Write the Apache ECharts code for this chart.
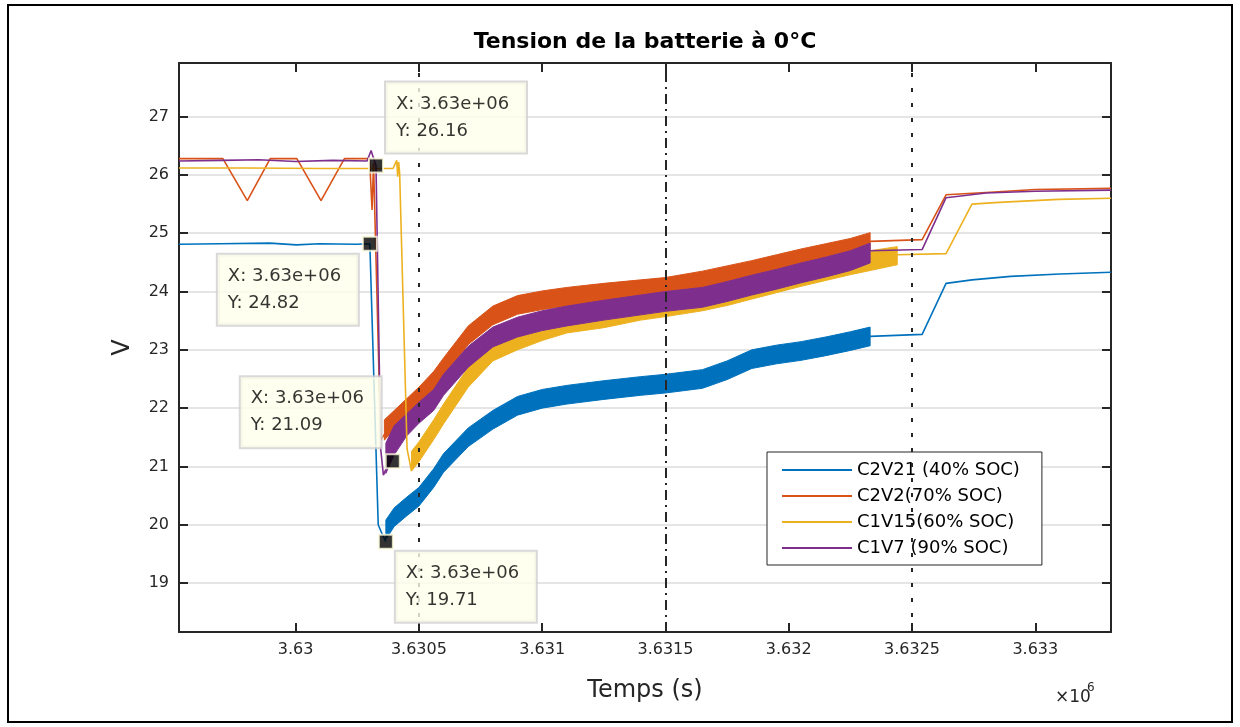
<!DOCTYPE html>
<html>
<head>
<meta charset="utf-8">
<script src="https://cdn.jsdelivr.net/npm/echarts@6/dist/echarts.min.js"></script>
<style>
  html, body { margin: 0; padding: 0; background: #fff; }
  #chart { width: 1240px; height: 727px; }
</style>
</head>
<body>
<div id="chart"></div>
<script>
// ---------- labels ----------
const TITLE = 'Tension de la batterie à 0°C';
const X_NAME = 'Temps (s)';
const Y_NAME = 'V';
const SERIES_NAMES = ['C2V21 (40% SOC)', 'C2V2(70% SOC)', 'C1V15(60% SOC)', 'C1V7 (90% SOC)'];

// ---------- axes (time in s, voltage in V) ----------
const TIME_RANGE = [3629527, 3633307];
const VOLT_RANGE = [18.16, 27.92];
const TIME_STEP = 500;
const VOLT_STEP = 1;
const EVENT_TIMES = [3630500, 3631500, 3632500];

// ---------- data tips ----------
const TIP_TIMES = [3630326, 3630301, 3630394, 3630366];
const TIP_VOLTS = [26.16, 24.82, 21.09, 19.71];

// ---------- C2V21 (40% SOC) ----------
const blueBefore = [[3629527, 24.81], [3629693, 24.82], [3629895, 24.83], [3630003, 24.80], [3630097, 24.82],
  [3630245, 24.81], [3630301, 24.82], [3630335, 20.0], [3630350, 19.85], [3630366, 19.71]];
// [t, low, high] envelope of the ripple during the charge
const blueBand = [[3630366, 19.75, 20.08], [3630400, 19.97, 20.29], [3630450, 20.15, 20.47], [3630500, 20.32, 20.64],
  [3630560, 20.64, 20.96], [3630600, 20.90, 21.22], [3630700, 21.34, 21.66], [3630800, 21.64, 21.96],
  [3630900, 21.88, 22.20], [3631000, 22.00, 22.32], [3631100, 22.07, 22.39], [3631250, 22.15, 22.47],
  [3631400, 22.22, 22.54], [3631500, 22.26, 22.58], [3631650, 22.34, 22.66], [3631750, 22.49, 22.81],
  [3631850, 22.68, 23.00], [3631950, 22.76, 23.08], [3632050, 22.82, 23.14], [3632150, 22.90, 23.22],
  [3632250, 22.99, 23.31], [3632330, 23.07, 23.39]];
const blueAfter = [[3632330, 23.23], [3632541, 23.265], [3632638, 24.14], [3632743, 24.20], [3632900, 24.26],
  [3633100, 24.30], [3633307, 24.33]];

// ---------- C2V2(70% SOC) ----------
const orangeBefore = [[3629527, 26.28], [3629705, 26.28], [3629804, 25.56], [3629897, 26.28], [3630005, 26.28],
  [3630103, 25.56], [3630198, 26.28], [3630300, 26.28], [3630310, 25.40], [3630316, 26.20], [3630345, 21.45],
  [3630360, 21.55]];
const orangeBand = [[3630360, 21.45, 21.80], [3630400, 21.64, 21.96], [3630450, 21.84, 22.16], [3630500, 22.04, 22.36],
  [3630560, 22.31, 22.63], [3630600, 22.54, 22.86], [3630700, 23.09, 23.41], [3630800, 23.43, 23.75],
  [3630900, 23.61, 23.93], [3631000, 23.69, 24.01], [3631100, 23.75, 24.07], [3631250, 23.82, 24.14],
  [3631400, 23.88, 24.20], [3631500, 23.92, 24.24], [3631650, 24.03, 24.35], [3631750, 24.12, 24.44],
  [3631850, 24.21, 24.53], [3631950, 24.31, 24.63], [3632050, 24.41, 24.73], [3632150, 24.50, 24.82],
  [3632250, 24.59, 24.91], [3632330, 24.69, 25.01]];
const orangeAfter = [[3632330, 24.86], [3632541, 24.89], [3632638, 25.66], [3632800, 25.70], [3633000, 25.75],
  [3633307, 25.77]];

// ---------- C1V15(60% SOC) ----------
const yellowBefore = [[3629527, 26.12], [3629800, 26.12], [3630100, 26.11], [3630395, 26.11], [3630410, 26.25],
  [3630414, 25.97], [3630418, 26.22], [3630422, 26.02], [3630452, 21.30], [3630470, 20.92]];
const yellowBand = [[3630470, 20.92, 21.26], [3630500, 21.08, 21.42], [3630560, 21.46, 21.80], [3630600, 21.73, 22.07],
  [3630700, 22.36, 22.70], [3630800, 22.81, 23.15], [3630900, 23.00, 23.34], [3631000, 23.16, 23.50],
  [3631100, 23.29, 23.63], [3631250, 23.38, 23.72], [3631400, 23.51, 23.85], [3631500, 23.57, 23.91],
  [3631650, 23.67, 24.01], [3631750, 23.76, 24.10], [3631850, 23.87, 24.21], [3631950, 23.98, 24.32],
  [3632050, 24.09, 24.43], [3632150, 24.19, 24.53], [3632250, 24.29, 24.63], [3632330, 24.36, 24.70],
  [3632440, 24.46, 24.77]];
const yellowAfter = [[3632440, 24.63], [3632638, 24.65], [3632743, 25.50], [3632852, 25.53], [3633095, 25.58],
  [3633307, 25.60]];

// ---------- C1V7 (90% SOC) ----------
const purpleBefore = [[3629527, 26.24], [3629700, 26.25], [3629850, 26.26], [3630000, 26.23], [3630150, 26.25],
  [3630290, 26.24], [3630306, 26.42], [3630315, 26.30], [3630326, 26.16], [3630345, 21.30], [3630356, 20.85],
  [3630366, 20.95]];
const purpleBand = [[3630366, 20.88, 21.40], [3630400, 21.20, 21.70], [3630450, 21.52, 21.90], [3630500, 21.74, 22.10],
  [3630560, 21.96, 22.32], [3630600, 22.22, 22.58], [3630700, 22.70, 23.06], [3630800, 23.05, 23.39],
  [3630900, 23.22, 23.56], [3631000, 23.33, 23.67], [3631100, 23.41, 23.75], [3631250, 23.51, 23.85],
  [3631400, 23.60, 23.94], [3631500, 23.66, 24.00], [3631650, 23.73, 24.07], [3631750, 23.83, 24.17],
  [3631850, 23.94, 24.28], [3631950, 24.04, 24.38], [3632050, 24.15, 24.49], [3632150, 24.25, 24.59],
  [3632250, 24.36, 24.70], [3632330, 24.49, 24.83]];
const purpleAfter = [[3632330, 24.70], [3632541, 24.72], [3632638, 25.61], [3632800, 25.69], [3633000, 25.72],
  [3633307, 25.74]];

// ---------- styling ----------
const FONT = '"DejaVu Sans", sans-serif';
const INK = '#262626';
const COLORS = ['#0072BD', '#D95319', '#EDB120', '#7E2F8E'];
const TIP_LABEL_POS = [[18, -75], [-144, 19], [-144, -76], [18, 18]];

const traces = [
  { before: blueBefore, band: blueBand, after: blueAfter },
  { before: orangeBefore, band: orangeBand, after: orangeAfter },
  { before: yellowBefore, band: yellowBand, after: yellowAfter },
  { before: purpleBefore, band: purpleBand, after: purpleAfter }
];

function sci(v) {
  const e = Math.floor(Math.log10(Math.abs(v)));
  const m = v / Math.pow(10, e);
  return m.toFixed(2) + 'e' + (e >= 0 ? '+' : '-') + String(Math.abs(e)).padStart(2, '0');
}

// filled ripple envelope: upper edge left->right, lower edge right->left
function bandRenderer(color) {
  return function (params, api) {
    if (params.dataIndexInside !== 0) return null;
    const n = params.dataInsideLength;
    const upper = [], lower = [];
    for (let i = 0; i < n; i++) {
      const t = api.value(0, i);
      upper.push(api.coord([t, api.value(2, i)]));
      lower.push(api.coord([t, api.value(1, i)]));
    }
    return {
      type: 'polygon',
      shape: { points: upper.concat(lower.reverse()) },
      style: { fill: color, stroke: color, lineWidth: 1 }
    };
  };
}

const series = [];
traces.forEach((tr, k) => {
  const line = {
    type: 'line', name: SERIES_NAMES[k], symbol: 'none', showSymbol: false,
    lineStyle: { color: COLORS[k], width: 1.6 }, itemStyle: { color: COLORS[k] },
    xAxisIndex: 0, yAxisIndex: 0, animation: false
  };
  series.push(Object.assign({}, line, { data: tr.before }));
  series.push(Object.assign({}, line, { data: tr.after }));
  series.push({
    type: 'custom', name: SERIES_NAMES[k], data: tr.band,
    encode: { x: 0, y: [1, 2] }, renderItem: bandRenderer(COLORS[k]),
    itemStyle: { color: COLORS[k] }, animation: false
  });
});

// vertical event markers
series[0].markLine = {
  silent: true, symbol: ['none', 'none'], label: { show: false }, animation: false,
  data: EVENT_TIMES.map((t, i) => ({
    xAxis: t,
    lineStyle: { color: INK, width: 2, type: i === 1 ? [10, 5, 2, 5] : [4, 11] }
  }))
};

// data tips
series.push({
  type: 'scatter', name: 'tips', z: 10, animation: false,
  symbol: 'rect', symbolSize: 14,
  itemStyle: { color: '#000', borderColor: '#ffffe0', borderWidth: 2 },
  data: TIP_TIMES.map((t, i) => ({
    value: [t, TIP_VOLTS[i]],
    label: { position: TIP_LABEL_POS[i] }
  })),
  label: {
    show: true, align: 'left', verticalAlign: 'top',
    formatter: p => 'X: ' + sci(p.value[0]) + '\nY: ' + p.value[1].toFixed(2),
    backgroundColor: '#ffffeb', borderColor: '#cfcfcf', borderWidth: 2,
    padding: [8, 10], width: 120, lineHeight: 27,
    fontFamily: FONT, fontSize: 18, color: '#000'
  }
});

const axisLine = { show: true, onZero: false, lineStyle: { color: INK, width: 2 } };
const axisTick = { show: true, inside: true, length: 9, lineStyle: { color: INK, width: 2 } };
const tickFont = { fontFamily: FONT, fontSize: 16, color: INK };

const option = {
  backgroundColor: '#fff',
  animation: false,
  grid: { left: 179, right: 129, top: 63, bottom: 95, outerBoundsMode: 'none', containLabel: false },
  legend: {
    orient: 'vertical', left: 767, top: 452,
    data: SERIES_NAMES,
    icon: 'rect', itemWidth: 70, itemHeight: 2, itemGap: 8,
    padding: [9, 22, 8, 15],
    backgroundColor: '#fff', borderColor: INK, borderWidth: 1, borderRadius: 0,
    textStyle: { fontFamily: FONT, fontSize: 18, color: '#000', lineHeight: 18 }
  },
  xAxis: [
    {
      type: 'value', position: 'bottom', min: TIME_RANGE[0], max: TIME_RANGE[1],
      minInterval: TIME_STEP, maxInterval: TIME_STEP, splitNumber: 8,
      axisLine, axisTick,
      axisLabel: Object.assign({ margin: 10, showMinLabel: false, showMaxLabel: false,
        formatter: v => String(+(v / 1e6).toFixed(4)) }, tickFont),
      splitLine: { show: false },
      name: X_NAME, nameLocation: 'middle', nameGap: 47,
      nameTextStyle: { fontFamily: FONT, fontSize: 24, color: INK }
    },
    {
      type: 'value', position: 'top', min: TIME_RANGE[0], max: TIME_RANGE[1],
      minInterval: TIME_STEP, maxInterval: TIME_STEP, splitNumber: 8,
      axisLine, axisTick, axisLabel: { show: false }, splitLine: { show: false }
    }
  ],
  yAxis: [
    {
      type: 'value', position: 'left', min: VOLT_RANGE[0], max: VOLT_RANGE[1],
      minInterval: VOLT_STEP, maxInterval: VOLT_STEP, splitNumber: 10,
      axisLine, axisTick,
      axisLabel: Object.assign({ margin: 10, showMinLabel: false, showMaxLabel: false }, tickFont),
      splitLine: { show: true, lineStyle: { color: '#dcdcdc', width: 1.5 } },
      name: Y_NAME, nameLocation: 'middle', nameGap: 44,
      nameTextStyle: { fontFamily: FONT, fontSize: 24, color: INK }
    },
    {
      type: 'value', position: 'right', min: VOLT_RANGE[0], max: VOLT_RANGE[1],
      minInterval: VOLT_STEP, maxInterval: VOLT_STEP, splitNumber: 10,
      axisLine, axisTick, axisLabel: { show: false }, splitLine: { show: false }
    }
  ],
  graphic: [
    { type: 'rect', shape: { x: 8, y: 5, width: 1224, height: 717 },
      style: { fill: 'none', stroke: '#000', lineWidth: 2 }, silent: true, z: -1 },
    { type: 'text', x: 645, y: 42,
      style: { text: TITLE, align: 'center', verticalAlign: 'middle',
        font: 'bold 22px ' + FONT, fill: '#000' } },
    { type: 'text', x: 1055, y: 698,
      style: { text: '×10', align: 'left', verticalAlign: 'middle', font: '17px ' + FONT, fill: INK } },
    { type: 'text', x: 1087, y: 688,
      style: { text: '6', align: 'left', verticalAlign: 'middle', font: '12px ' + FONT, fill: INK } }
  ],
  series
};

const chart = echarts.init(document.getElementById('chart'), null, { renderer: 'canvas' });
chart.setOption(option);
</script>
</body>
</html>
